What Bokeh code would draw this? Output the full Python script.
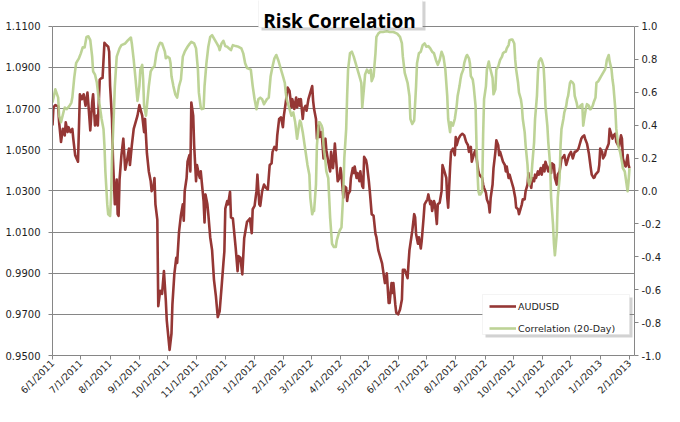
from math import pi
import pandas as pd
from bokeh.plotting import figure
from bokeh.models import (Range1d, LinearAxis, FixedTicker, NumeralTickFormatter,
                          CustomJSTickFormatter, Legend, LegendItem, BoxAnnotation, Label)
from bokeh.embed import file_html
from bokeh.resources import INLINE

# ---------------- data ----------------
START_DATE = "2011-06-01"   # day 0 of the day offsets below

audusd_days = [0, 1, 3, 6, 7, 9, 11, 13, 14, 16, 17, 19, 21, 22, 24, 27, 29, 31, 33, 35,
               37, 38, 40, 42, 43, 45, 47, 48, 50, 52, 53, 55, 57, 59, 60, 61, 63, 64, 66, 68,
               69, 70, 71, 73, 75, 77, 79, 81, 82, 84, 86, 90, 92, 95, 97, 98, 100, 102, 104, 105,
               107, 108, 109, 111, 112, 114, 116, 118, 120, 121, 124, 126, 127, 129, 131, 132, 134, 136, 138, 139,
               140, 142, 143, 145, 146, 147, 149, 150, 152, 153, 155, 156, 157, 160, 161, 162, 164, 165, 167, 169,
               171, 173, 175, 177, 179, 181, 182, 183, 185, 186, 188, 189, 191, 194, 196, 197, 199, 201, 203, 206,
               209, 211, 212, 214, 216, 217, 219, 220, 222, 224, 226, 228, 230, 232, 233, 235, 237, 238, 240, 242,
               244, 245, 247, 249, 251, 253, 254, 256, 258, 259, 261, 262, 263, 265, 266, 268, 269, 271, 273, 275,
               276, 277, 279, 280, 282, 283, 285, 286, 287, 289, 290, 292, 294, 295, 297, 298, 299, 301, 302, 304,
               305, 306, 308, 309, 311, 312, 313, 315, 316, 318, 319, 320, 322, 323, 325, 326, 328, 329, 330, 332,
               333, 335, 336, 338, 340, 342, 343, 345, 347, 349, 350, 352, 353, 354, 356, 357, 359, 360, 361, 363,
               364, 366, 368, 370, 371, 373, 376, 377, 378, 380, 381, 383, 384, 385, 387, 388, 390, 391, 393, 394,
               395, 397, 398, 400, 401, 402, 404, 405, 407, 408, 410, 412, 413, 415, 417, 418, 419, 421, 422, 424,
               426, 427, 428, 430, 432, 434, 436, 438, 440, 441, 443, 444, 445, 447, 448, 450, 451, 452, 455, 456,
               457, 459, 460, 462, 463, 464, 466, 467, 469, 470, 472, 473, 474, 476, 477, 479, 480, 481, 483, 484,
               486, 488, 490, 491, 493, 494, 496, 497, 498, 500, 501, 503, 504, 505, 507, 508, 510, 511, 512, 514,
               515, 517, 518, 520, 521, 522, 524, 525, 527, 528, 529, 531, 532, 534, 535, 537, 538, 539, 541, 542,
               544, 546, 547, 549, 550, 551, 553, 554, 556, 557, 558, 560, 561, 563, 564, 566, 567, 568, 570, 571,
               573, 574, 575, 578, 579, 580, 582, 583, 585, 586, 587, 589, 590, 592, 593, 594, 596, 597, 599, 600,
               602, 603, 604, 606, 607, 609, 610, 611]
audusd = [1.0618, 1.0706, 1.0717, 1.0711, 1.0634, 1.0538, 1.0602, 1.0570, 1.0634, 1.0586,
          1.0610, 1.0586, 1.0602, 1.0554, 1.0474, 1.0442, 1.0770, 1.0746, 1.0770, 1.0714,
          1.0778, 1.0722, 1.0594, 1.0730, 1.0770, 1.0618, 1.0666, 1.0618, 1.0841, 1.0849,
          1.0849, 1.1020, 1.1009, 1.1001, 1.0977, 1.0810, 1.0650, 1.0458, 1.0235, 1.0355,
          1.0187, 1.0179, 1.0355, 1.0474, 1.0554, 1.0403, 1.0450, 1.0506, 1.0426, 1.0522,
          1.0602, 1.0666, 1.0717, 1.0666, 1.0586, 1.0650, 1.0482, 1.0395, 1.0347, 1.0299,
          1.0323, 1.0363, 1.0235, 1.0160, 0.9740, 0.9815, 0.9800, 0.9910, 0.9767, 0.9671,
          0.9527, 0.9607, 0.9750, 0.9894, 0.9975, 0.9950, 1.0102, 1.0182, 1.0235, 1.0155,
          1.0299, 1.0363, 1.0442, 1.0474, 1.0395, 1.0730, 1.0666, 1.0522, 1.0347, 1.0426,
          1.0379, 1.0363, 1.0395, 1.0251, 1.0147, 1.0283, 1.0235, 1.0187, 1.0075, 1.0012,
          0.9868, 0.9790, 0.9687, 0.9715, 0.9830, 0.9950, 1.0006, 1.0214, 1.0251, 1.0235,
          1.0296, 1.0171, 1.0166, 1.0022, 0.9910, 0.9983, 0.9975, 0.9894, 1.0070, 1.0150,
          1.0166, 1.0094, 1.0211, 1.0227, 1.0299, 1.0379, 1.0235, 1.0227, 1.0299, 1.0331,
          1.0315, 1.0307, 1.0426, 1.0434, 1.0490, 1.0514, 1.0498, 1.0570, 1.0650, 1.0658,
          1.0610, 1.0666, 1.0730, 1.0802, 1.0786, 1.0706, 1.0746, 1.0698, 1.0754, 1.0706,
          1.0746, 1.0714, 1.0746, 1.0650, 1.0698, 1.0714, 1.0690, 1.0746, 1.0778, 1.0810,
          1.0738, 1.0698, 1.0650, 1.0554, 1.0618, 1.0562, 1.0586, 1.0522, 1.0458, 1.0554,
          1.0498, 1.0442, 1.0395, 1.0490, 1.0411, 1.0458, 1.0530, 1.0411, 1.0347, 1.0363,
          1.0411, 1.0379, 1.0267, 1.0323, 1.0315, 1.0251, 1.0283, 1.0299, 1.0363, 1.0411,
          1.0387, 1.0419, 1.0363, 1.0387, 1.0347, 1.0395, 1.0323, 1.0315, 1.0466, 1.0450,
          1.0426, 1.0347, 1.0299, 1.0187, 1.0179, 1.0091, 1.0075, 1.0012, 0.9980, 0.9948,
          0.9916, 0.9852, 0.9868, 0.9900, 0.9756, 0.9756, 0.9852, 0.9804, 0.9852, 0.9748,
          0.9708, 0.9700, 0.9724, 0.9772, 0.9916, 0.9916, 0.9876, 0.9948, 1.0012, 1.0075,
          1.0107, 1.0187, 1.0171, 1.0091, 1.0043, 1.0075, 1.0020, 1.0059, 1.0171, 1.0235,
          1.0243, 1.0259, 1.0283, 1.0235, 1.0251, 1.0203, 1.0251, 1.0235, 1.0139, 1.0235,
          1.0243, 1.0299, 1.0426, 1.0395, 1.0363, 1.0267, 1.0219, 1.0411, 1.0490, 1.0506,
          1.0474, 1.0562, 1.0522, 1.0554, 1.0570, 1.0578, 1.0570, 1.0538, 1.0522, 1.0490,
          1.0514, 1.0442, 1.0458, 1.0490, 1.0498, 1.0426, 1.0395, 1.0379, 1.0363, 1.0331,
          1.0315, 1.0291, 1.0259, 1.0235, 1.0195, 1.0267, 1.0331, 1.0411, 1.0490, 1.0546,
          1.0522, 1.0474, 1.0490, 1.0458, 1.0442, 1.0426, 1.0395, 1.0419, 1.0363, 1.0379,
          1.0347, 1.0315, 1.0267, 1.0219, 1.0211, 1.0187, 1.0219, 1.0235, 1.0259, 1.0259,
          1.0299, 1.0331, 1.0387, 1.0347, 1.0315, 1.0363, 1.0347, 1.0379, 1.0363, 1.0395,
          1.0379, 1.0411, 1.0379, 1.0426, 1.0395, 1.0442, 1.0411, 1.0395, 1.0426, 1.0387,
          1.0434, 1.0426, 1.0363, 1.0331, 1.0379, 1.0395, 1.0426, 1.0458, 1.0466, 1.0474,
          1.0426, 1.0458, 1.0474, 1.0490, 1.0474, 1.0458, 1.0490, 1.0490, 1.0498, 1.0506,
          1.0522, 1.0554, 1.0562, 1.0570, 1.0554, 1.0530, 1.0506, 1.0482, 1.0411, 1.0379,
          1.0363, 1.0366, 1.0379, 1.0395, 1.0426, 1.0506, 1.0490, 1.0458, 1.0474, 1.0498,
          1.0506, 1.0530, 1.0602, 1.0570, 1.0554, 1.0570, 1.0578, 1.0538, 1.0522, 1.0514,
          1.0570, 1.0554, 1.0458, 1.0426, 1.0419, 1.0474, 1.0426, 1.0411]

corr_days = [0, 3, 6, 7, 9, 12, 13, 15, 18, 20, 21, 23, 25, 28, 30, 32, 34, 36, 38, 40,
             42, 43, 45, 47, 49, 52, 54, 55, 56, 58, 59, 61, 62, 63, 65, 66, 68, 71, 73, 77,
             80, 83, 84, 86, 88, 90, 92, 93, 95, 96, 97, 99, 100, 102, 104, 106, 108, 110, 112, 114,
             116, 119, 120, 122, 124, 125, 126, 128, 130, 132, 134, 136, 138, 140, 143, 145, 147, 150, 152, 154,
             155, 157, 158, 160, 161, 163, 165, 167, 169, 172, 174, 176, 177, 179, 181, 183, 185, 187, 189, 191,
             194, 197, 200, 202, 204, 206, 210, 212, 214, 216, 218, 220, 222, 224, 227, 229, 231, 233, 235, 237,
             239, 241, 244, 246, 247, 248, 251, 253, 255, 257, 259, 261, 262, 263, 265, 268, 270, 272, 273, 275,
             276, 277, 279, 280, 282, 283, 285, 286, 287, 289, 290, 292, 293, 294, 296, 298, 300, 301, 303, 304,
             306, 308, 309, 311, 312, 313, 315, 317, 319, 321, 323, 325, 327, 328, 330, 331, 333, 335, 337, 338,
             340, 342, 343, 345, 347, 350, 354, 357, 361, 365, 368, 370, 371, 373, 376, 378, 379, 381, 383, 385,
             386, 388, 390, 392, 394, 396, 398, 400, 402, 404, 406, 408, 410, 412, 414, 416, 418, 419, 421, 422,
             424, 426, 428, 429, 431, 432, 433, 435, 436, 438, 439, 441, 442, 443, 445, 446, 448, 449, 450, 451,
             452, 453, 455, 456, 457, 459, 460, 462, 463, 466, 467, 469, 470, 472, 473, 474, 476, 477, 479, 480,
             481, 483, 484, 486, 487, 489, 490, 491, 493, 494, 496, 497, 498, 500, 501, 503, 504, 505, 507, 508,
             510, 511, 513, 514, 515, 517, 518, 520, 521, 522, 524, 525, 527, 528, 530, 531, 532, 534, 535, 537,
             538, 539, 541, 542, 544, 545, 546, 548, 549, 551, 552, 553, 555, 556, 558, 559, 561, 562, 563, 565,
             566, 568, 569, 570, 572, 573, 575, 576, 578, 579, 581, 583, 585, 586, 587, 589, 590, 592, 593, 594,
             596, 597, 599, 600, 601, 603, 604, 606, 607, 609, 610, 611]
corr = [0.537, 0.617, 0.567, 0.457, 0.417, 0.487, 0.507, 0.497, 0.517, 0.537,
        0.567, 0.687, 0.776, 0.806, 0.836, 0.872, 0.872, 0.936, 0.940, 0.916,
        0.816, 0.727, 0.707, 0.657, 0.557, 0.437, 0.377, 0.277, 0.118, -0.082,
        -0.142, -0.152, -0.042, 0.198, 0.477, 0.637, 0.816, 0.866, 0.886, 0.896,
        0.916, 0.932, 0.896, 0.796, 0.677, 0.547, 0.637, 0.737, 0.766, 0.677,
        0.517, 0.457, 0.517, 0.637, 0.727, 0.747, 0.756, 0.836, 0.876, 0.900,
        0.896, 0.846, 0.806, 0.816, 0.806, 0.776, 0.697, 0.637, 0.587, 0.567,
        0.637, 0.677, 0.816, 0.846, 0.876, 0.892, 0.906, 0.896, 0.866, 0.737,
        0.597, 0.507, 0.497, 0.501, 0.637, 0.776, 0.876, 0.936, 0.946, 0.916,
        0.896, 0.876, 0.856, 0.896, 0.912, 0.880, 0.876, 0.866, 0.856, 0.886,
        0.880, 0.876, 0.866, 0.836, 0.776, 0.747, 0.737, 0.637, 0.557, 0.497,
        0.557, 0.567, 0.557, 0.527, 0.557, 0.567, 0.697, 0.756, 0.806, 0.826,
        0.796, 0.756, 0.697, 0.657, 0.597, 0.557, 0.497, 0.457, 0.477, 0.417,
        0.317, 0.397, 0.427, 0.417, 0.357, 0.238, 0.158, 0.098, -0.042, -0.142,
        -0.122, -0.122, 0.038, 0.277, 0.417, 0.417, 0.397, 0.377, 0.277, 0.178,
        0.118, 0.078, -0.042, -0.162, -0.321, -0.341, -0.341, -0.301, -0.261, -0.242,
        -0.222, -0.002, 0.198, 0.377, 0.577, 0.737, 0.836, 0.846, 0.816, 0.776,
        0.737, 0.697, 0.657, 0.507, 0.637, 0.707, 0.737, 0.717, 0.737, 0.667,
        0.697, 0.836, 0.936, 0.956, 0.966, 0.966, 0.970, 0.966, 0.966, 0.956,
        0.936, 0.896, 0.816, 0.717, 0.657, 0.577, 0.437, 0.407, 0.427, 0.637,
        0.776, 0.836, 0.846, 0.886, 0.896, 0.876, 0.880, 0.866, 0.846, 0.836,
        0.796, 0.766, 0.796, 0.846, 0.816, 0.737, 0.577, 0.437, 0.357, 0.417,
        0.397, 0.437, 0.517, 0.577, 0.637, 0.677, 0.707, 0.737, 0.776, 0.816,
        0.826, 0.806, 0.776, 0.697, 0.677, 0.637, 0.517, 0.277, 0.118, -0.002,
        -0.022, -0.022, -0.002, 0.337, 0.557, 0.637, 0.737, 0.786, 0.756, 0.687,
        0.587, 0.617, 0.737, 0.756, 0.776, 0.796, 0.816, 0.836, 0.846, 0.846,
        0.866, 0.886, 0.916, 0.920, 0.920, 0.896, 0.796, 0.737, 0.657, 0.597,
        0.557, 0.517, 0.437, 0.357, 0.277, 0.158, 0.058, 0.038, 0.078, 0.158,
        0.297, 0.437, 0.577, 0.717, 0.786, 0.806, 0.796, 0.756, 0.657, 0.517,
        0.397, 0.297, 0.158, -0.042, -0.202, -0.321, -0.391, -0.261, -0.042, 0.078,
        0.277, 0.377, 0.437, 0.477, 0.517, 0.557, 0.577, 0.657, 0.667, 0.657,
        0.647, 0.577, 0.537, 0.507, 0.507, 0.517, 0.527, 0.397, 0.437, 0.507,
        0.527, 0.517, 0.497, 0.497, 0.517, 0.537, 0.567, 0.657, 0.667, 0.677,
        0.697, 0.717, 0.737, 0.756, 0.796, 0.826, 0.786, 0.737, 0.677, 0.637,
        0.497, 0.377, 0.277, 0.257, 0.238, 0.178, 0.138, 0.118, 0.078, -0.002,
        0.058, 0.138]

month_ticks = ["2011-06-01", "2011-07-01", "2011-08-01", "2011-09-01", "2011-10-01",
               "2011-11-01", "2011-12-01", "2012-01-01", "2012-02-01", "2012-03-01",
               "2012-04-01", "2012-05-01", "2012-06-01", "2012-07-01", "2012-08-01",
               "2012-09-01", "2012-10-01", "2012-11-01", "2012-12-01", "2013-01-01",
               "2013-02-01"]
month_labels = ["6/1/2011", "7/1/2011", "8/1/2011", "9/1/2011", "10/1/2011",
                "11/1/2011", "12/1/2011", "1/1/2012", "2/1/2012", "3/1/2012",
                "4/1/2012", "5/1/2012", "6/1/2012", "7/1/2012", "8/1/2012",
                "9/1/2012", "10/1/2012", "11/1/2012", "12/1/2012", "1/1/2013",
                "2/1/2013"]
left_ticks = [0.95, 0.97, 0.99, 1.01, 1.03, 1.05, 1.07, 1.09, 1.11]
right_ticks = [-1.0, -0.8, -0.6, -0.4, -0.2, 0.0, 0.2, 0.4, 0.6, 0.8, 1.0]

TITLE = "Risk Correlation"
NAME_AUD = "AUDUSD"
NAME_CORR = "Correlation (20-Day)"

# ---------------- layout constants (pixels) ----------------
W, H = 664, 406
B_LEFT, B_RIGHT, B_BOTTOM = 52, 30, 49
FRAME_H = H - B_BOTTOM          # frame reaches the top of the canvas
PLOT_TOP = 26                   # where the 1.11 / 1.0 line sits

# ---------------- build ----------------
start = pd.Timestamp(START_DATE)
aud_x = [(start + pd.Timedelta(days=d)).to_pydatetime() for d in audusd_days]
cor_x = [(start + pd.Timedelta(days=d)).to_pydatetime() for d in corr_days]
x_end = (start + pd.Timedelta(days=616.3)).to_pydatetime()

lo, hi = left_ticks[0], left_ticks[-1]
span_px = FRAME_H - PLOT_TOP
y_top = hi + PLOT_TOP * (hi - lo) / span_px
r_lo, r_hi = right_ticks[0], right_ticks[-1]
r_top = r_hi + PLOT_TOP * (r_hi - r_lo) / span_px

RED = "#953735"
GREEN = "#B6CE8B"
AXIS_GRAY = "#868686"
TXT = "#1e1e1e"

p = figure(width=W, height=H, x_axis_type="datetime",
           x_range=Range1d(start.to_pydatetime(), x_end),
           y_range=Range1d(lo, y_top),
           output_backend="svg", toolbar_location=None,
           min_border_left=B_LEFT, min_border_right=B_RIGHT,
           min_border_top=0, min_border_bottom=B_BOTTOM)
p.outline_line_color = None
p.background_fill_color = "white"
p.border_fill_color = "white"
p.extra_y_ranges = {"corr": Range1d(r_lo, r_top)}

# x axis
tick_ms = [pd.Timestamp(t).value // 10**6 for t in month_ticks]
p.xaxis.ticker = FixedTicker(ticks=tick_ms)
p.xaxis.major_label_overrides = {ms: lab for ms, lab in zip(tick_ms, month_labels)}
p.xaxis.major_label_orientation = pi / 4
p.xaxis.major_label_standoff = 2

# left axis
left_ticker = FixedTicker(ticks=left_ticks)
p.yaxis.ticker = left_ticker
p.yaxis.formatter = NumeralTickFormatter(format="0.0000")
p.yaxis.major_label_standoff = 8
p.yaxis.bounds = (lo, hi)

# right axis
right_fmt = CustomJSTickFormatter(code="""
    const v = Math.abs(tick) < 1e-9 ? 0 : tick;
    return v.toFixed(1);
""")
ax2 = LinearAxis(y_range_name="corr", ticker=FixedTicker(ticks=right_ticks),
                 formatter=right_fmt, bounds=(r_lo, r_hi))
ax2.major_label_standoff = 3
p.add_layout(ax2, "right")

for ax in p.xaxis + p.yaxis:
    ax.axis_line_color = AXIS_GRAY
    ax.major_tick_line_color = AXIS_GRAY
    ax.minor_tick_line_color = None
    ax.major_tick_in = 0
    ax.major_tick_out = 4
    ax.major_label_text_font = "DejaVu Sans"
    ax.major_label_text_font_size = "10px"
    ax.major_label_text_color = TXT
p.xaxis.major_label_text_font_size = "9.5px"

p.xgrid.visible = False
p.ygrid.ticker = left_ticker
p.ygrid.grid_line_color = AXIS_GRAY
p.ygrid.grid_line_width = 1

# series
r_aud = p.line(aud_x, audusd, line_color=RED, line_width=2.6, line_join="round")
r_cor = p.line(cor_x, corr, y_range_name="corr", line_color=GREEN, line_width=2.6,
               line_join="round", line_alpha=0.9)


def sbox(left, right, bottom, top, **kw):
    return BoxAnnotation(left=left, right=right, bottom=bottom, top=top,
                         left_units="screen", right_units="screen",
                         bottom_units="screen", top_units="screen", **kw)


# title box with shadow (screen units measured from the frame's bottom-left)
p.add_layout(sbox(209, 373, FRAME_H - 32, FRAME_H - 3,
                  fill_color="#7f7f7f", fill_alpha=0.35, line_color=None))
p.add_layout(sbox(206, 370, FRAME_H - 29, FRAME_H + 3,
                  fill_color="white", fill_alpha=1, line_color="#d9d9d9", line_width=1))
p.add_layout(Label(x=287, y=FRAME_H - 22, x_units="screen", y_units="screen", text=TITLE,
                   text_font="Open Sans", text_font_style="bold", text_font_size="19px",
                   text_color="black", text_align="center", text_baseline="alphabetic"))

# legend box with shadow
base = FRAME_H - 336
p.add_layout(sbox(433, 580, base - 3, base + 37,
                  fill_color="#7f7f7f", fill_alpha=0.35, line_color=None))
p.add_layout(sbox(430, 577, base, base + 40,
                  fill_color="white", fill_alpha=1, line_color="#d9d9d9", line_width=1))

legend = Legend(items=[LegendItem(label=NAME_AUD, renderers=[r_aud]),
                       LegendItem(label=NAME_CORR, renderers=[r_cor])],
                location=(437, base), orientation="vertical",
                background_fill_alpha=0, border_line_color=None,
                padding=3, spacing=10, margin=0,
                glyph_width=27, glyph_height=12, label_height=12, label_standoff=2,
                label_text_font="DejaVu Sans", label_text_font_size="9.5px",
                label_text_color=TXT)
p.add_layout(legend)

open("out.html", "w").write(file_html(p, INLINE))
